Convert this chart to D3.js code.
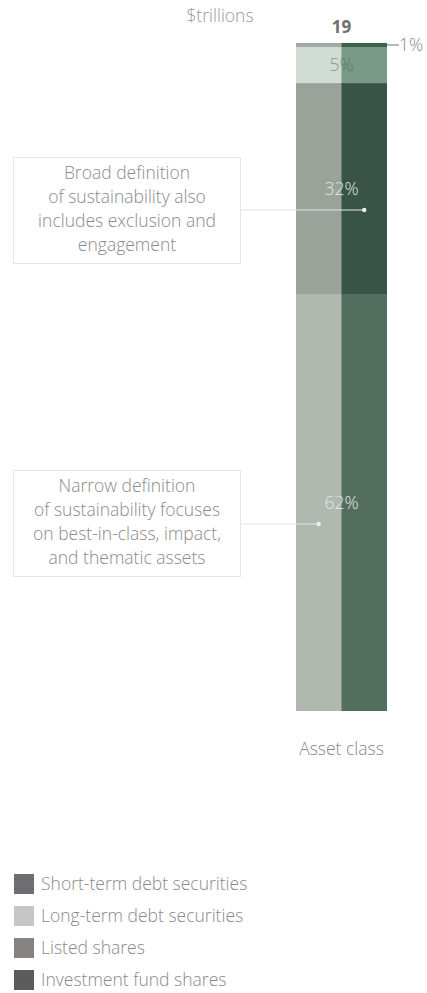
<!DOCTYPE html>
<html>
<head>
<meta charset="utf-8">
<script src="https://cdn.jsdelivr.net/npm/d3@7"></script>
<style>
  body { margin: 0; background: #fff; }
  svg text { font-family: "Open Sans", sans-serif; font-weight: 300; }
</style>
</head>
<body>
<svg id="chart" width="427" height="993"></svg>
<script>
// values
var categories = ["Short-term debt securities", "Long-term debt securities", "Listed shares", "Investment fund shares"];
var shares = [0.6, 5.4, 31.7, 62.3];           // % of total, top to bottom
var shareLabels = ["1%", "5%", "32%", "62%"];
var total = 19;                                 // $trillions
var halves = ["left", "right"];
var leftColors  = ["#a2aaa1", "#d1dcd4", "#9ba29a", "#b0b9b0"];
var rightColors = ["#40604f", "#7a9a88", "#375446", "#526e5e"];
var legendColors = ["#6d6d72", "#c6c6c6", "#858482", "#5c5c5c"];
var notes = [
  {lines: ["Broad definition", "of sustainability also", "includes exclusion and", "engagement"], seg: 2, half: "right"},
  {lines: ["Narrow definition", "of sustainability focuses", "on best-in-class, impact,", "and thematic assets"], seg: 3, half: "left"}
];

var fs = 17.5;
var svg = d3.select("#chart");

var y = d3.scaleLinear().domain([0, 100]).range([43, 711]);
var x = d3.scaleBand().domain(halves).range([296, 387]).padding(0);

// stack the segments
var rows = [];
var acc = 0;
shares.forEach(function(v, i) {
  rows.push({i: i, y0: acc, y1: acc + v, label: shareLabels[i]});
  acc += v;
});

var g = svg.append("g");
rows.forEach(function(r) {
  halves.forEach(function(h) {
    g.append("rect")
      .attr("x", x(h))
      .attr("y", y(r.y0))
      .attr("width", x.bandwidth() + (h == "left" ? 0.5 : 0))
      .attr("height", y(r.y1) - y(r.y0))
      .attr("fill", h == "left" ? leftColors[r.i] : rightColors[r.i]);
  });
});

var midX = x("right");
var labColor = ["#888", "#4a4a4a", "#e2e7e4", "#e2e7e4"];
rows.forEach(function(r) {
  var yy = (y(r.y0) + y(r.y1)) / 2;
  if (r.i == 0) {
    // small segment: label outside with leader
    svg.append("line").attr("x1", 387).attr("x2", 399).attr("y1", yy).attr("y2", yy)
      .attr("stroke", "#888").attr("stroke-width", 1.2);
    svg.append("text").attr("x", 399).attr("y", yy + 6).text(r.label)
      .attr("font-size", fs).attr("fill", "#888");
  } else {
    svg.append("text").attr("x", midX).attr("y", yy + 6)
      .attr("text-anchor", "middle").attr("font-size", fs)
      .attr("fill", labColor[r.i]).attr("fill-opacity", r.i == 1 ? 0.5 : 1)
      .text(r.label);
  }
});

// total on top
svg.append("text").attr("x", midX).attr("y", 33).attr("text-anchor", "middle")
  .attr("font-size", 17).style("font-weight", 700).attr("fill", "#6e6e6e").text(total);
svg.append("text").attr("x", 220).attr("y", 22).attr("text-anchor", "middle")
  .attr("font-size", fs).attr("fill", "#999").text("$trillions");

svg.append("text").attr("x", midX).attr("y", 755).attr("text-anchor", "middle")
  .attr("font-size", fs).attr("fill", "#888").text("Asset class");

// annotation boxes
var boxTop = [157, 470];
notes.forEach(function(n, k) {
  var top = boxTop[k];
  var ty = k == 0 ? top + 53 : top + 54;
  var dotX = x(n.half) + x.bandwidth() / 2;
  svg.append("line").attr("x1", 240).attr("x2", dotX).attr("y1", ty).attr("y2", ty)
    .attr("stroke", "#e4e4e4").attr("stroke-width", 1.2);
  svg.append("circle").attr("cx", dotX).attr("cy", ty).attr("r", 2.2).attr("fill", "#eeeeee");
  svg.append("rect").attr("x", 13.5).attr("y", top + 0.5).attr("width", 227).attr("height", 106)
    .attr("fill", "#fff").attr("stroke", "#e6e6e6");
  n.lines.forEach(function(l, j) {
    svg.append("text").attr("x", 127).attr("y", top + 22 + j * 24)
      .attr("text-anchor", "middle").attr("font-size", fs).attr("fill", "#8a8a8a").text(l);
  });
});

// legend
var leg = svg.append("g").attr("transform", "translate(14,874)");
categories.forEach(function(c, i) {
  var row = leg.append("g").attr("transform", "translate(0," + (i * 32) + ")");
  row.append("rect").attr("width", 20).attr("height", 20).attr("fill", legendColors[i]);
  row.append("text").attr("x", 27).attr("y", 16).attr("font-size", fs).attr("fill", "#8a8a8a").text(c);
});
</script>
</body>
</html>
